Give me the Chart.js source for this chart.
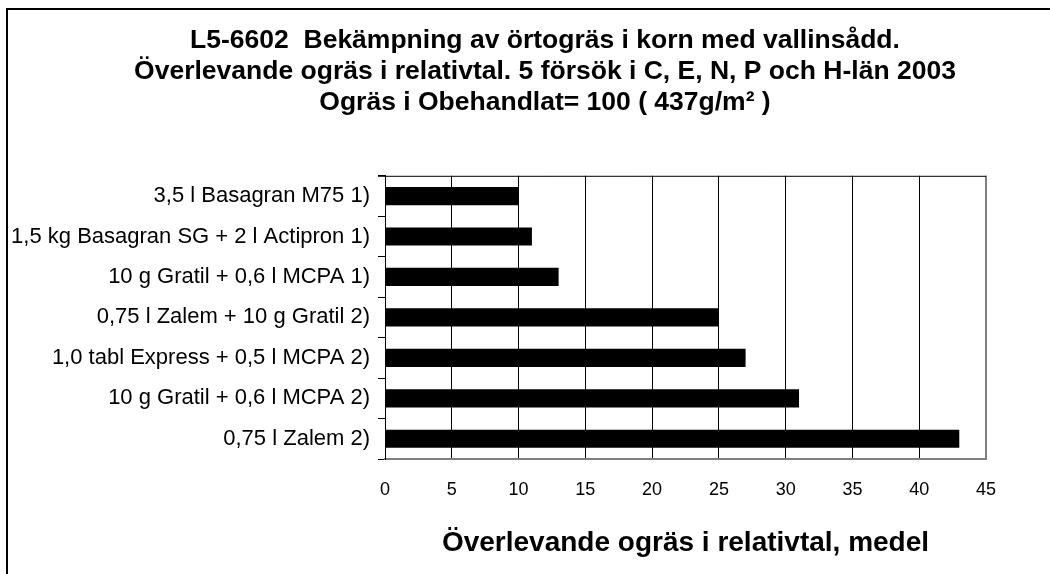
<!DOCTYPE html>
<html lang="sv">
<head>
    <meta charset="UTF-8">
    <title>L5-6602 Bekämpning av örtogräs i korn med vallinsådd</title>
    <script src="https://cdn.jsdelivr.net/npm/chart.js"></script>
    <style>
        body {
            margin: 0;
            background: #fff;
            overflow: hidden;
        }

        .ram {
            position: absolute;
            left: 6px;
            top: 8px;
            width: 1100px;
            height: 620px;
            border: 2px solid #000;
        }

        /* duken är lite bredare än fönstret så att rubriken centreras i ramen */
        #diagram {
            position: absolute;
            left: 0;
            top: 0;
        }
    </style>
</head>
<body>
    <div class="ram"></div>
    <canvas id="diagram" width="1090" height="574"></canvas>
    <script>
        // behandlingar, uppifrån och ned
        var behandlingar = [
            '3,5 l Basagran M75 1)',
            '1,5 kg Basagran SG + 2 l Actipron 1)',
            '10 g Gratil + 0,6 l MCPA 1)',
            '0,75 l Zalem + 10 g Gratil 2)',
            '1,0 tabl Express + 0,5 l MCPA 2)',
            '10 g Gratil + 0,6 l MCPA 2)',
            '0,75 l Zalem 2)'
        ];
        // överlevande ogräs, relativtal
        var relativtal = [10, 11, 13, 25, 27, 31, 43];

        var rubrik = [
            'L5-6602  Bekämpning av örtogräs i korn med vallinsådd.',
            'Överlevande ogräs i relativtal. 5 försök i C, E, N, P och H-län 2003',
            'Ogräs i Obehandlat= 100 ( 437g/m² )'
        ];
        var xRubrik = 'Överlevande ogräs i relativtal, medel';
        var xMin = 0, xMax = 45, xSteg = 5;

        var typsnitt = "'Liberation Sans', Arial, sans-serif";

        // ram runt diagramytan: svart överkant, grå högerkant
        var diagramRam = {
            id: 'diagramRam',
            afterDraw: function (chart) {
                var a = chart.chartArea;
                var c = chart.ctx;
                c.save();
                c.strokeStyle = '#808080';
                c.lineWidth = 2;
                c.beginPath();
                c.moveTo(a.right, a.top);
                c.lineTo(a.right, a.bottom + 1);
                c.stroke();
                c.strokeStyle = '#000';
                c.lineWidth = 1;
                c.beginPath();
                c.moveTo(a.left - 7, a.top + 0.5);
                c.lineTo(a.right, a.top + 0.5);
                c.stroke();
                c.restore();
            }
        };

        var ctx = document.getElementById('diagram').getContext('2d');
        var diagram = new Chart(ctx, {
            type: 'bar',
            data: {
                labels: behandlingar,
                datasets: [{
                    data: relativtal,
                    backgroundColor: '#000',
                    borderWidth: 0,
                    barPercentage: 0.45,
                    categoryPercentage: 1
                }]
            },
            options: {
                indexAxis: 'y',
                responsive: false,
                animation: false,
                layout: {
                    padding: 0
                },
                plugins: {
                    legend: { display: false },
                    tooltip: { enabled: false },
                    title: {
                        display: true,
                        text: rubrik,
                        color: '#000',
                        font: { family: typsnitt, size: 26.5, weight: 'bold', lineHeight: 1.18 },
                        padding: { top: 25, bottom: 57 }
                    }
                },
                scales: {
                    x: {
                        type: 'linear',
                        min: xMin,
                        max: xMax,
                        ticks: {
                            stepSize: xSteg,
                            color: '#000',
                            padding: 20,
                            font: { family: typsnitt, size: 18 }
                        },
                        grid: {
                            color: function (c) {
                                return c.tick && c.tick.value === xMax ? '#808080' : '#000';
                            },
                            lineWidth: 1,
                            drawTicks: false
                        },
                        border: { display: true, color: '#808080', width: 2 },
                        title: {
                            display: true,
                            text: xRubrik,
                            color: '#000',
                            font: { family: typsnitt, size: 28, weight: 'bold', lineHeight: 1.2 },
                            padding: { top: 0, bottom: 14 }
                        },
                        afterFit: function (s) { s.height = 115; }
                    },
                    y: {
                        ticks: {
                            color: '#000',
                            padding: 8,
                            font: { family: typsnitt, size: 22 }
                        },
                        grid: {
                            drawOnChartArea: false,
                            drawTicks: true,
                            tickLength: 7,
                            color: '#000'
                        },
                        border: { display: true, color: '#000', width: 1 },
                        afterFit: function (s) { s.width = 385; }
                    },
                    // tom axel till höger, bara för marginalen
                    hoger: {
                        type: 'category',
                        position: 'right',
                        ticks: { display: false },
                        grid: { display: false },
                        border: { display: false },
                        afterFit: function (s) { s.width = 104; }
                    }
                }
            },
            plugins: [diagramRam]
        });
    </script>
</body>
</html>
